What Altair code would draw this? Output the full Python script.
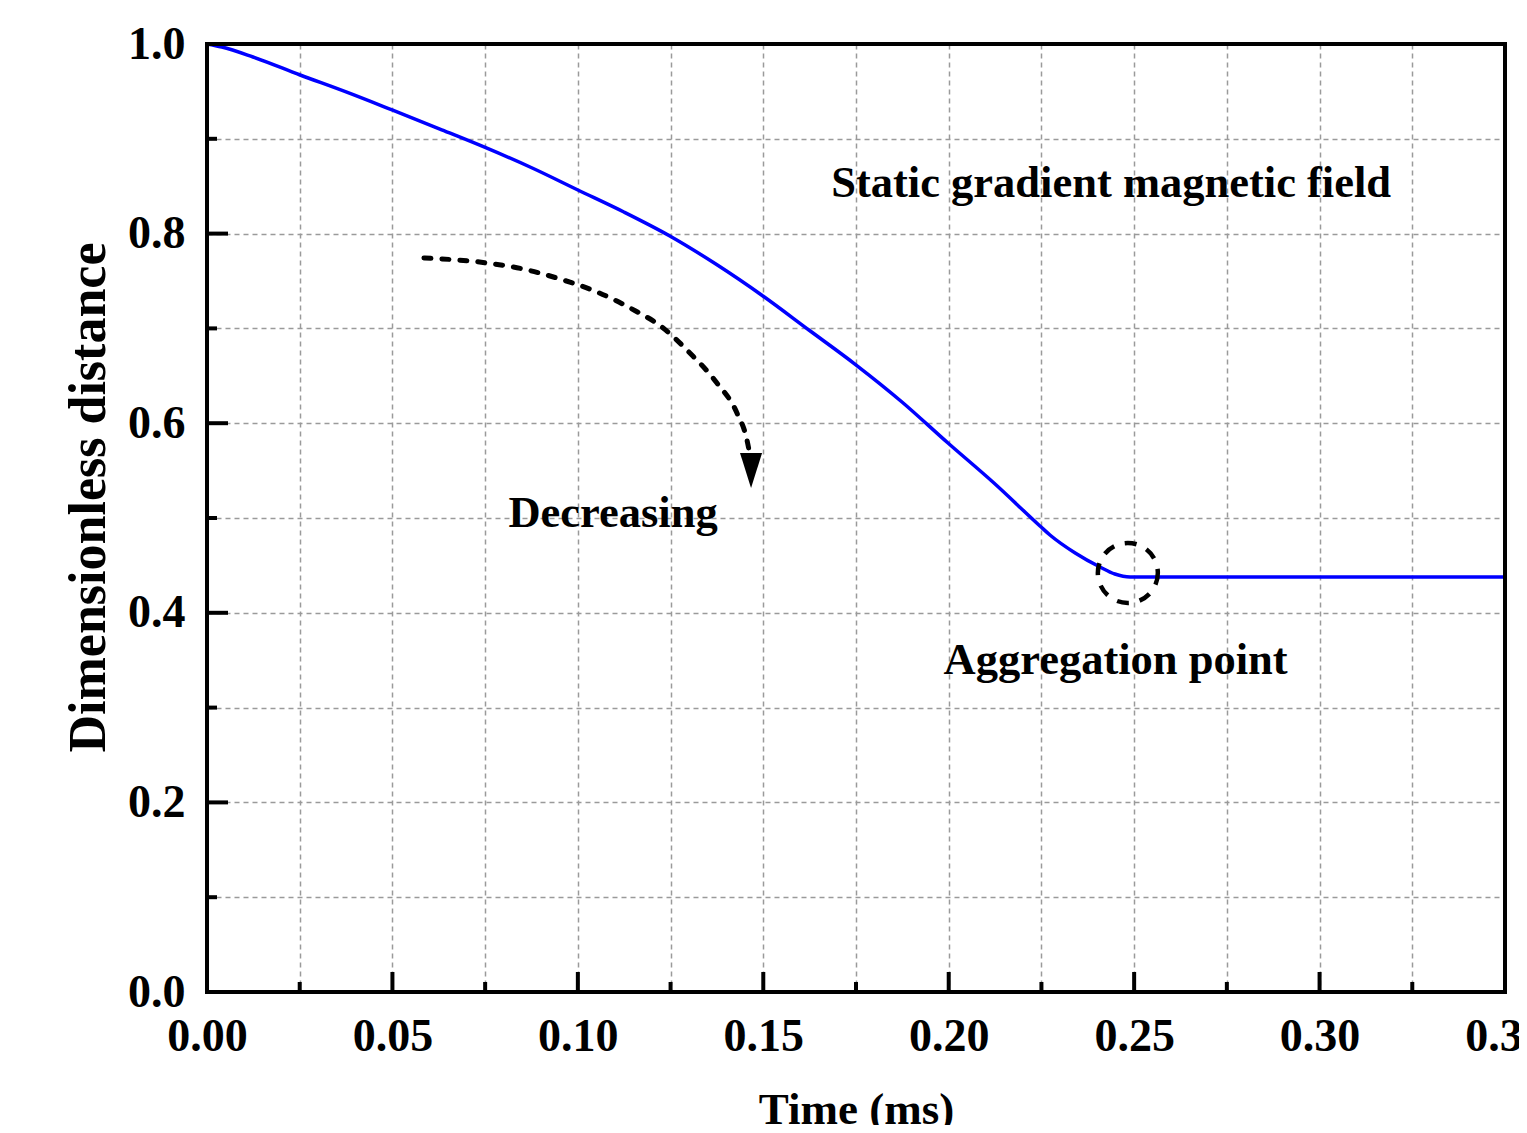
import altair as alt
import pandas as pd

# ---- data ----
time_ms = [0.0, 0.0040, 0.0124, 0.0251, 0.0375, 0.0499, 0.0628, 0.0750, 0.0874, 0.1000,
           0.1124, 0.1248, 0.1372, 0.1499, 0.1623, 0.1747, 0.1874, 0.1998, 0.2122, 0.2246,
           0.2273, 0.2341, 0.2408, 0.2448, 0.2489, 0.26, 0.30, 0.35]
distance = [1.0, 0.9968, 0.9863, 0.9673, 0.9494, 0.9304, 0.9103, 0.8909, 0.8697, 0.8460,
            0.8228, 0.7975, 0.7679, 0.7342, 0.6983, 0.6624, 0.6224, 0.5791, 0.5369, 0.4916,
            0.4821, 0.4631, 0.4483, 0.4409, 0.4378, 0.4378, 0.4378, 0.4378]

arrow_t = [0.0585, 0.0755, 0.0852, 0.0952, 0.1052, 0.1141, 0.1230, 0.1302, 0.1375, 0.1429, 0.1456, 0.1464]
arrow_d = [0.7743, 0.7690, 0.7627, 0.7521, 0.7384, 0.7215, 0.7004, 0.6741, 0.6424, 0.6108, 0.5823, 0.5665]
head_t = [0.1467]
head_d = [0.5501]

circle_t = [0.2483]
circle_d = [0.442]

ann_text = ["Static gradient magnetic field", "Decreasing", "Aggregation point"]
ann_t = [0.2438, 0.1095, 0.2450]
ann_d = [0.8386, 0.4905, 0.3354]

x_values = [0.0, 0.025, 0.05, 0.075, 0.10, 0.125, 0.15, 0.175, 0.20, 0.225, 0.25, 0.275, 0.30, 0.325, 0.35]
y_values = [0.0, 0.1, 0.2, 0.3, 0.4, 0.5, 0.6, 0.7, 0.8, 0.9, 1.0]
x_major = [0.05, 0.10, 0.15, 0.20, 0.25, 0.30]
x_minor = [0.025, 0.075, 0.125, 0.175, 0.225, 0.275, 0.325]
y_major = [0.2, 0.4, 0.6, 0.8]
y_minor = [0.1, 0.3, 0.5, 0.7, 0.9]

FONT = "Liberation Serif"
W, H = 1298, 948

line_df = pd.DataFrame({"t": time_ms, "d": distance})
arrow_df = pd.DataFrame({"t": arrow_t, "d": arrow_d})
head_df = pd.DataFrame({"t": head_t, "d": head_d})
circle_df = pd.DataFrame({"t": circle_t, "d": circle_d})
ann_df = pd.DataFrame({"t": ann_t, "d": ann_d, "label": ann_text})
xmaj_df = pd.DataFrame({"t": x_major})
xmin_df = pd.DataFrame({"t": x_minor})
ymaj_df = pd.DataFrame({"d": y_major})
ymin_df = pd.DataFrame({"d": y_minor})

x_scale = alt.Scale(domain=[0, 0.35], nice=False, zero=False)
y_scale = alt.Scale(domain=[0, 1.0], nice=False, zero=False)

x_axis = alt.Axis(
    values=x_values,
    labelExpr="abs(datum.value*20 - round(datum.value*20)) < 0.001 ? format(datum.value, '.2f') : ''",
    grid=True, gridColor="#9a9a9a", gridDash=[5, 4], gridWidth=1.5,
    ticks=False, tickSize=0, domain=False,
    labelFont=FONT, labelFontSize=46, labelFontWeight="bold", labelColor="black",
    labelBaseline="alphabetic", labelPadding=58, labelFlush=False, labelOverlap=False,
    title="Time (ms)", titleFont=FONT, titleFontSize=45, titleFontWeight="bold",
    titleColor="black", titleBaseline="alphabetic", titleY=131,
)
y_axis = alt.Axis(
    values=y_values,
    labelExpr="abs(datum.value*5 - round(datum.value*5)) < 0.001 ? format(datum.value, '.1f') : ''",
    grid=True, gridColor="#9a9a9a", gridDash=[5, 4], gridWidth=1.5,
    ticks=False, tickSize=0, domain=False,
    labelFont=FONT, labelFontSize=46, labelFontWeight="bold", labelColor="black",
    labelAlign="right", labelBaseline="middle", labelPadding=22, labelFlush=False, labelOverlap=False,
    title="Dimensionless distance", titleFont=FONT, titleFontSize=52, titleFontWeight="bold",
    titleColor="black", titleAngle=270, titleBaseline="alphabetic", titleX=-103, titleY=453,
    titleAlign="center",
)

X = alt.X("t:Q", scale=x_scale, axis=x_axis)
Y = alt.Y("d:Q", scale=y_scale, axis=y_axis)

curve = alt.Chart(line_df).mark_line(
    color="#0000ff", strokeWidth=3.5, interpolate="monotone"
).encode(x=X, y=Y)

arrow = alt.Chart(arrow_df).mark_line(
    color="black", strokeWidth=5, strokeDash=[7, 11], strokeCap="round", interpolate="monotone"
).encode(x=X, y=Y)

head = alt.Chart(head_df).mark_point(
    shape="M -0.63 -1 L 0.63 -1 L 0 1 Z", size=1225, filled=True, color="black", opacity=1
).encode(x=X, y=Y)

circle = alt.Chart(circle_df).mark_point(
    shape="circle", size=3600, filled=False, color="black", strokeWidth=4.5,
    strokeDash=[12, 11], opacity=1
).encode(x=X, y=Y)

texts = alt.Chart(ann_df).mark_text(
    font=FONT, fontSize=44.5, fontWeight="bold", color="black",
    align="center", baseline="alphabetic"
).encode(x=X, y=Y, text="label:N")

xmaj = alt.Chart(xmaj_df).mark_rule(color="black", strokeWidth=4).encode(
    x=X, y=alt.value(H), y2=alt.value(H - 20))
xmin = alt.Chart(xmin_df).mark_rule(color="black", strokeWidth=4).encode(
    x=X, y=alt.value(H), y2=alt.value(H - 10))
ymaj = alt.Chart(ymaj_df).mark_rule(color="black", strokeWidth=4).encode(
    y=Y, x=alt.value(0), x2=alt.value(21))
ymin = alt.Chart(ymin_df).mark_rule(color="black", strokeWidth=4).encode(
    y=Y, x=alt.value(0), x2=alt.value(10))

frame = alt.Chart(alt.Data(values=[{}])).mark_rect(
    filled=False, stroke="black", strokeWidth=4
).encode(
    x=alt.datum(0.0, scale=x_scale), x2=alt.datum(0.35),
    y=alt.datum(0.0, scale=y_scale), y2=alt.datum(1.0),
)

chart = alt.layer(
    curve, arrow, head, circle, texts, frame, xmaj, xmin, ymaj, ymin
).properties(
    width=W, height=H,
    autosize=alt.AutoSizeParams(type="none"),
    padding={"left": 199, "top": 36, "right": 14, "bottom": 133},
    background="white",
).configure_view(stroke=None)

chart.save("out.html", embed_options={"renderer": "svg", "actions": False})
